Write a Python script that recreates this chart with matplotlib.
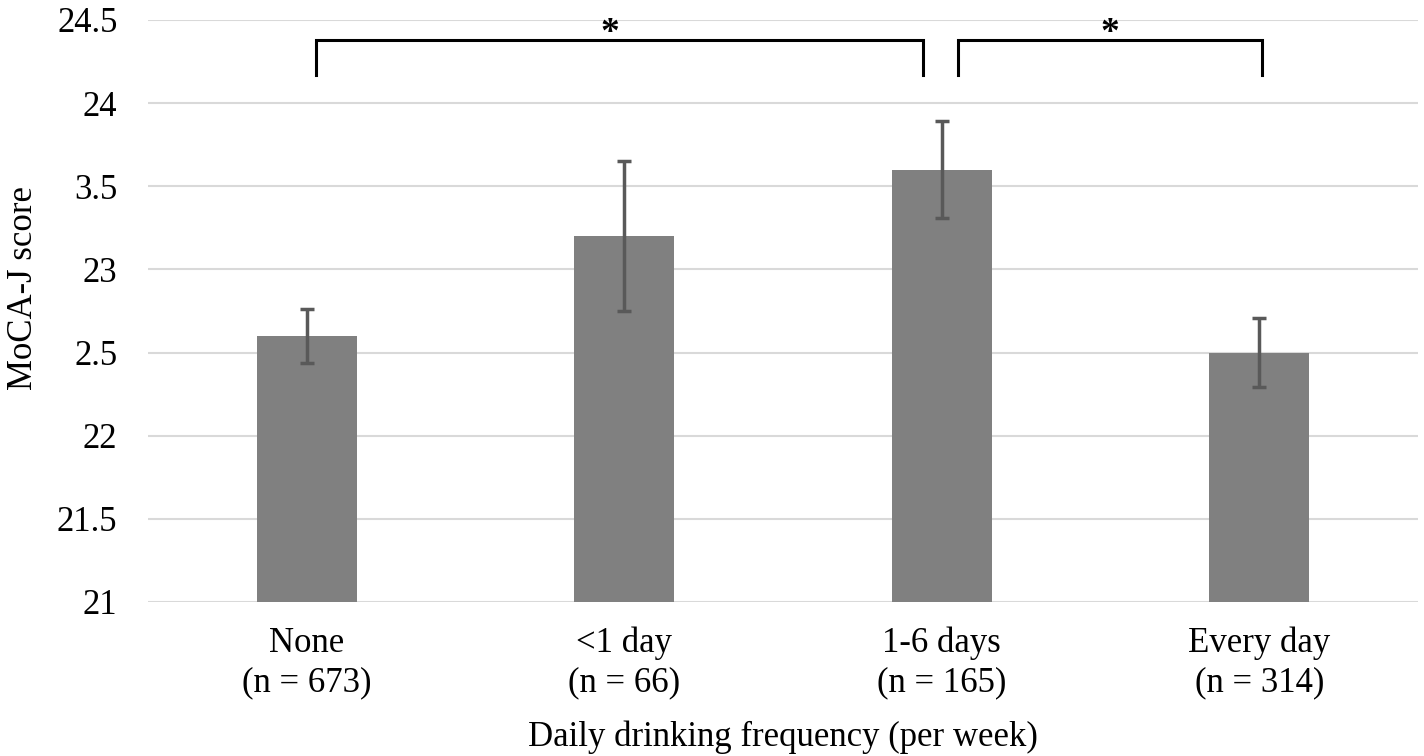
import matplotlib
matplotlib.use("Agg")
import matplotlib.pyplot as plt
import numpy as np

categories = ["None\n(n = 673)", "<1 day\n(n = 66)", "1-6 days\n(n = 165)", "Every day\n(n = 314)"]
means = [22.60, 23.20, 23.60, 22.50]
err_low = [22.44, 22.75, 23.31, 22.29]
err_high = [22.76, 23.65, 23.89, 22.71]
yticks = [21, 21.5, 22, 22.5, 23, 23.5, 24, 24.5]
ytick_labels = ["21", "21.5", "22", "2.5", "23", "3.5", "24", "24.5"]

plt.rcParams['font.family'] = ['Liberation Serif', 'DejaVu Serif']
FS = 25

fig = plt.figure(figsize=(14.24, 7.56), dpi=100)
ax = fig.add_axes([148/1424, 1 - 602/756, (1418-148)/1424, (602-20)/756])

x = np.arange(len(categories))
lo = np.array(means) - np.array(err_low)
hi = np.array(err_high) - np.array(means)
ax.bar(x, np.array(means) - 21, bottom=21, width=0.315, color="#808080", zorder=2)
ax.errorbar(x, means, yerr=[lo, hi], fmt="none", ecolor="#595959", elinewidth=2.5,
            capsize=5, capthick=2.5, zorder=3)

ax.set_xlim(-0.5, 3.5)
ax.set_ylim(21, 24.5)
ax.set_yticks(yticks)
ax.set_yticklabels(ytick_labels, fontsize=FS)
ax.set_xticks(x)
ax.set_xticklabels(categories, fontsize=FS, linespacing=1.25)
ax.grid(axis="y", color="#d9d9d9", linewidth=1.5, zorder=0)
for s in ax.spines.values():
    s.set_visible(False)
ax.tick_params(axis="y", length=0, pad=22)
ax.tick_params(axis="x", length=0, pad=18)
ax.set_ylabel("MoCA-J score", fontsize=FS, labelpad=12)
ax.yaxis.label.set_y(0.54)
ax.set_xlabel("Daily drinking frequency (per week)", fontsize=FS, labelpad=15)

# significance brackets
def bracket(x0, x1, xs, ytop, ybot):
    ax.plot([x0, x0, x1, x1], [ybot, ytop, ytop, ybot], color="black", lw=2.2,
            solid_joinstyle="miter", zorder=4)
    ax.text(xs, ytop - 0.065, "*", ha="center", va="bottom", fontsize=27,
            fontweight="bold")

bracket(0.03, 1.94, 0.955, 24.38, 24.17)
bracket(2.05, 3.01, 2.53, 24.38, 24.17)

fig.savefig("out.png", dpi=100)
